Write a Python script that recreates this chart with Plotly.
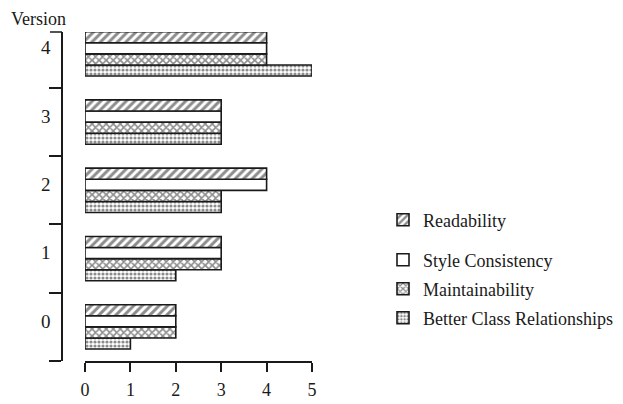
import plotly.graph_objects as go

versions = ["0", "1", "2", "3", "4"]
readability = [2, 3, 4, 3, 4]
style_consistency = [2, 3, 4, 3, 4]
maintainability = [2, 3, 3, 3, 4]
better_class = [1, 2, 3, 3, 5]
x_ticks = [0, 1, 2, 3, 4, 5]

FONT = "Liberation Serif"
INK = "#1a1a1a"

# the page puts the figure 8px in from the top-left corner
OFF = 8
W, H = 623 - OFF, 404 - OFF
L, T = 62 - OFF, 32 - OFF
R = 623 - 312
B = 404 - 361
pw = W - L - R
ph = H - T - B


def sx(px):
    return (px - 62) / pw


def sy(py):
    return 1 - (py - 32) / ph


# name, values, pattern shape, legend id, legend item centre (screen px)
series = [
    ("Better Class Relationships", better_class, ".", "legend4", 318),
    ("Maintainability", maintainability, "x", "legend3", 289),
    ("Style Consistency", style_consistency, "", "legend2", 260),
    ("Readability", readability, "/", "legend", 220),
]

fig = go.Figure()
legends = {}
for name, vals, shape, lg, py in series:
    pattern = dict(shape=shape, fgcolor=INK, bgcolor="white", fillmode="overlay")
    if shape == "/":
        pattern.update(size=6, solidity=0.5)
    elif shape == "x":
        pattern.update(size=5, solidity=0.55)
    elif shape == ".":
        pattern.update(size=4, solidity=0.5)
    fig.add_trace(go.Bar(
        y=versions, x=vals, name=name, orientation="h", legend=lg,
        marker=dict(color="white", line=dict(color=INK, width=1.6), pattern=pattern),
    ))
    legends[lg] = dict(
        x=sx(383), xanchor="left", y=sy(py), yanchor="middle",
        font=dict(family=FONT, size=18, color=INK), bgcolor="rgba(0,0,0,0)",
        borderwidth=0,
    )

fig.update_layout(
    width=W, height=H,
    margin=dict(l=L, r=R, t=T, b=B, autoexpand=False),
    paper_bgcolor="white", plot_bgcolor="white",
    barmode="group", bargap=0.35, bargroupgap=0,
    font=dict(family=FONT, size=19, color=INK),
    showlegend=True,
    **legends,
    xaxis=dict(
        domain=[sx(85), 1], range=[0, 5], tickvals=x_ticks, automargin=False,
        showgrid=False, zeroline=False, showline=True, linecolor=INK, linewidth=1.5,
        ticks="outside", ticklen=9, tickwidth=1.5, tickcolor=INK, ticklabelstandoff=3,
        tickfont=dict(family=FONT, size=18, color=INK), anchor="y",
    ),
    yaxis=dict(
        type="category", range=[-0.5, 4.32], anchor="free", position=0, automargin=False,
        tickson="boundaries", ticks="outside", ticklen=12, tickwidth=1.5, tickcolor=INK,
        showgrid=False, zeroline=False, showline=True, linecolor=INK, linewidth=1.5,
        ticklabelstandoff=7, ticklabelshift=-6,
        tickfont=dict(family=FONT, size=19, color=INK),
    ),
    annotations=[dict(
        text="Version", xref="paper", yref="paper", x=sx(38), y=sy(19),
        xanchor="center", yanchor="middle", showarrow=False,
        font=dict(family=FONT, size=18, color=INK),
    )],
    shapes=[dict(
        type="line", xref="paper", yref="paper", x0=sx(50), x1=0, y0=1, y1=1,
        line=dict(color=INK, width=1.5),
    )],
)

fig.write_html("out.html")
